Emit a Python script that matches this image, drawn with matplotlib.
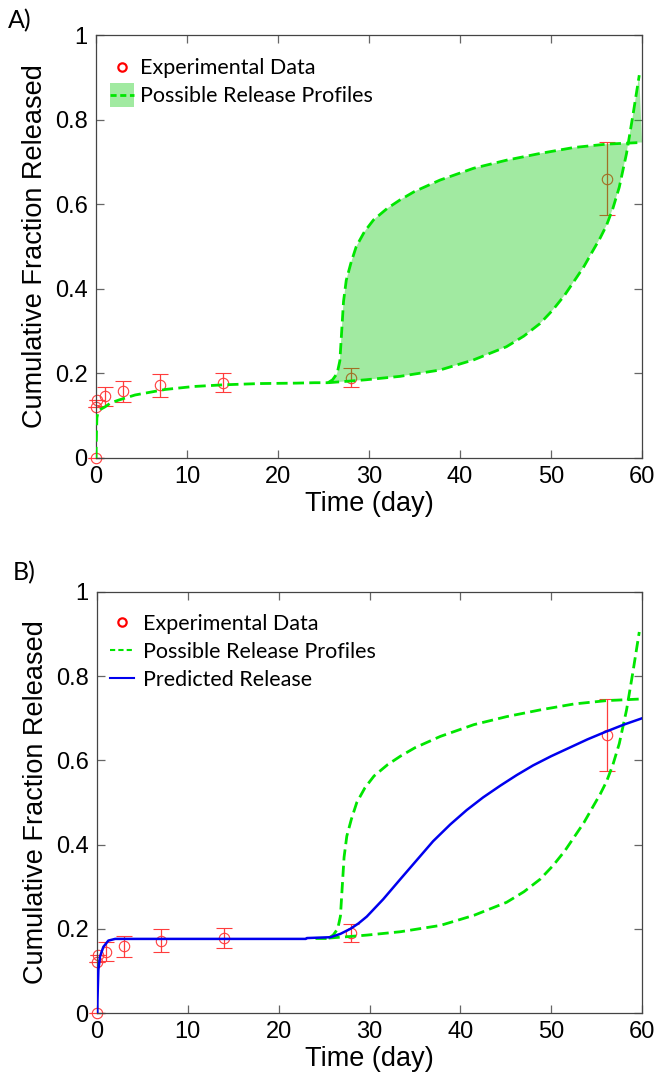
import numpy as np
import matplotlib
matplotlib.use("Agg")
import matplotlib.pyplot as plt
from matplotlib.lines import Line2D
from matplotlib.patches import Patch, Rectangle
from matplotlib.legend_handler import HandlerPatch

# ---------------- data ----------------
t_exp = [0, 0.04, 0.08, 1, 3, 7, 14, 28, 56.2]
y_exp = [0, 0.121, 0.137, 0.146, 0.158, 0.172, 0.178, 0.19, 0.66]
err_exp = [0, 0, 0, 0.022, 0.025, 0.027, 0.023, 0.022, 0.086]

# common early-release profile (green dashed)
t_base = [0, 0.05, 0.1, 0.2, 0.5, 1, 1.6, 2.5, 4.3, 7.6, 10.7, 14, 18, 22, 24, 25.5]
y_base = [0, 0.06, 0.095, 0.106, 0.115, 0.121, 0.13, 0.137, 0.149, 0.162,
          0.169, 0.173, 0.176, 0.177, 0.178, 0.178]

# fast upper profile
t_up = [25.5, 26, 26.5, 26.8, 27.0, 27.2, 27.5, 28, 28.6, 29.5, 30.5, 32,
        33.4, 35, 37.8, 41.5, 45.1, 48.8, 52.5, 56.1, 60]
y_up = [0.178, 0.185, 0.2, 0.23, 0.3, 0.37, 0.42, 0.46, 0.50, 0.535, 0.563,
        0.59, 0.61, 0.63, 0.657, 0.685, 0.704, 0.72, 0.734, 0.742, 0.746]

# slow lower profile
t_low = [25.5, 28, 29.7, 33.4, 37.8, 41.5, 45.1, 47.0, 48.8, 50.2, 51.5,
         52.6, 53.6, 54.6, 55.4, 56.1, 56.8, 57.5, 58.3, 59.0, 59.7]
y_low = [0.178, 0.182, 0.185, 0.193, 0.208, 0.232, 0.263, 0.288, 0.318, 0.35,
         0.385, 0.42, 0.452, 0.49, 0.52, 0.55, 0.59, 0.64, 0.72, 0.81, 0.905]

# predicted release (blue)
t_pred = [0.03, 0.05, 0.15, 0.33, 0.7, 1.25, 2.0, 5, 10, 15, 20, 23, 23.1,
          25.7, 26.8, 27.9, 28.8, 29.7, 31.5, 33.4, 35.2, 37.0, 38.9, 40.7,
          42.5, 44.4, 46.2, 48.0, 50.0, 52.0, 54.0, 56.0, 58.0, 60.0]
y_pred = [0.0, 0.031, 0.102, 0.134, 0.157, 0.172, 0.176, 0.176, 0.176, 0.176,
          0.176, 0.176, 0.178, 0.180, 0.188, 0.2, 0.213, 0.229, 0.27, 0.318,
          0.363, 0.408, 0.448, 0.482, 0.512, 0.54, 0.565, 0.588, 0.61, 0.63,
          0.65, 0.668, 0.685, 0.70]

x_ticks = [0, 10, 20, 30, 40, 50, 60]
x_ticklabels = ['0', '10', '20', '30', '40', '50', '60']
y_ticks = [0, 0.2, 0.4, 0.6, 0.8, 1.0]
y_ticklabels = ['0', '0.2', '0.4', '0.6', '0.8', '1']

# ---------------- style ----------------
GREEN = '#00e600'
FILL = (0.0, 0.78, 0.0)
RED = '#ff3c3c'
BLUE = '#0000ee'
DASH = (0, (4.0, 1.9))
ARIAL = 'Liberation Sans'
CAL = 'Lato'
LEG_FS = 15.5

fig = plt.figure(figsize=(6.56, 10.78), dpi=100)
W, H = 656, 1078
axA = fig.add_axes([96 / W, 1 - 458 / H, 546 / W, 423 / H])
axB = fig.add_axes([97 / W, 1 - 1013 / H, 545 / W, 421 / H])


def style(ax):
    ax.set_xlim(0, 60)
    ax.set_ylim(0, 1)
    ax.set_xticks(x_ticks)
    ax.set_xticklabels(x_ticklabels, family=ARIAL, fontsize=17)
    ax.set_yticks(y_ticks)
    ax.set_yticklabels(y_ticklabels, family=ARIAL, fontsize=17)
    ax.tick_params(direction='in', top=True, right=True, length=6, width=0.9,
                   color='#666666', pad=6)
    for s in ax.spines.values():
        s.set_color('#444444')
        s.set_linewidth(0.9)
    ax.set_xlabel('Time (day)', family=ARIAL, fontsize=19.5, labelpad=2)
    ax.set_ylabel('Cumulative Fraction Released', family=ARIAL, fontsize=19.5,
                  labelpad=5)


def exp_data(ax):
    cont = ax.errorbar(t_exp, y_exp, yerr=err_exp, fmt='o', ms=7.5, mfc='none',
                       mec=RED, mew=0.8, ecolor=RED, elinewidth=0.9, capsize=6,
                       capthick=0.9, zorder=2)
    cont[0].set_clip_on(False)
    for c in cont[1]:
        c.set_clip_on(False)


def square_patch(legend, orig_handle, xdescent, ydescent, width, height, fontsize):
    side = 17.3  # points (~24 px)
    cy = (height - ydescent) / 2.0
    return Rectangle((-xdescent, cy - side / 2.0), width, side)


# ---------------- panel A ----------------
exp_data(axA)
axA.fill(np.concatenate([t_up, t_low[::-1]]),
         np.concatenate([y_up, y_low[::-1]]),
         facecolor=FILL, alpha=0.37, edgecolor='none', zorder=3)
axA.plot(t_base, y_base, color=GREEN, lw=2, ls=DASH, zorder=4)
axA.plot(t_up, y_up, color=GREEN, lw=2, ls=DASH, zorder=4, clip_on=False)
axA.plot(t_low, y_low, color=GREEN, lw=2, ls=DASH, zorder=4)
style(axA)

hA1 = Line2D([], [], ls='none', marker='o', ms=6, mfc='none', mec='red', mew=1.6)
hA2 = (Patch(facecolor=FILL, alpha=0.37, edgecolor='none'),
       Line2D([], [], color=GREEN, lw=2, ls=(0, (2.2, 1.3))))
axA.legend([hA1, hA2], ['Experimental Data', 'Possible Release Profiles'],
           loc='upper left', bbox_to_anchor=(0.0256, 0.945), frameon=False,
           borderpad=0, borderaxespad=0, handlelength=1.12,
           handletextpad=0.28, labelspacing=0.37,
           handler_map={Patch: HandlerPatch(patch_func=square_patch)},
           prop={'family': CAL, 'size': LEG_FS})

# ---------------- panel B ----------------
exp_data(axB)
mask = np.array(t_base) >= 24
axB.plot(np.array(t_base)[mask], np.array(y_base)[mask], color=GREEN, lw=2,
         ls=DASH, zorder=3)
axB.plot(t_up, y_up, color=GREEN, lw=2, ls=DASH, zorder=3, clip_on=False)
axB.plot(t_low, y_low, color=GREEN, lw=2, ls=DASH, zorder=3)
axB.plot(t_pred, y_pred, color=BLUE, lw=1.8, zorder=4)
style(axB)

hB1 = Line2D([], [], ls='none', marker='o', ms=6, mfc='none', mec='red', mew=1.6)
hB2 = Line2D([], [], color=GREEN, lw=1.5, ls=(0, (2.5, 1.5)))
hB3 = Line2D([], [], color=BLUE, lw=1.5)
axB.legend([hB1, hB2, hB3],
           ['Experimental Data', 'Possible Release Profiles', 'Predicted Release'],
           loc='upper left', bbox_to_anchor=(0.024, 0.948), frameon=False,
           borderpad=0, borderaxespad=0, handlelength=1.12, handletextpad=0.42,
           labelspacing=0.37, prop={'family': CAL, 'size': LEG_FS})

fig.text(8 / W, 1 - 9 / H, 'A)', family=CAL, fontsize=18, va='top', ha='left')
fig.text(13 / W, 1 - 561 / H, 'B)', family=CAL, fontsize=18, va='top', ha='left')

fig.savefig('out.png', dpi=100)
